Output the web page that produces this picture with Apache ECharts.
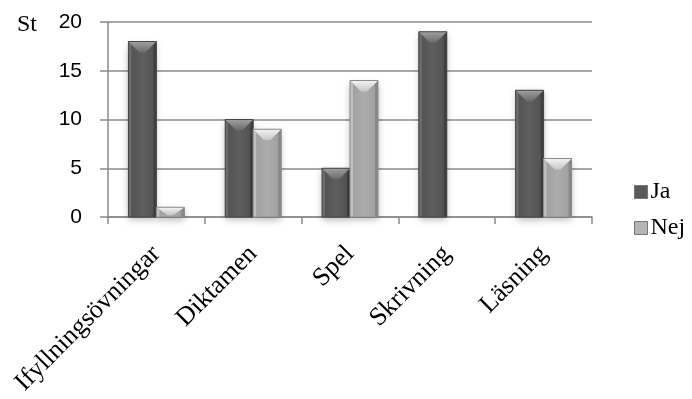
<!DOCTYPE html>
<html>
<head>
<meta charset="utf-8">
<script src="https://cdn.jsdelivr.net/npm/echarts@6/dist/echarts.min.js"></script>
<style>
  html, body { margin: 0; padding: 0; background: #fff; }
  #chart { width: 692px; height: 399px; }
</style>
</head>
<body>
<div id="chart"></div>
<script>
// Antal svar per övningstyp
const categories = ['Ifyllningsövningar', 'Diktamen', 'Spel', 'Skrivning', 'Läsning'];
const jaValues = [18, 10, 5, 19, 13];
const nejValues = [1, 9, 14, 0, 6];
const yTicks = [0, 5, 10, 15, 20];

const BAR_W = 28;

// Bevelled column: flat body, light/dark side strips and a light top facet
function bevelBar(shades, offsetIndex) {
  return function (params, api) {
    const v = api.value(1);
    if (!v) return null;
    const top = api.coord([api.value(0), v]);
    const base = api.coord([api.value(0), 0]);
    const x0 = top[0] + (offsetIndex === 0 ? -BAR_W : 0);
    const x1 = x0 + BAR_W;
    const yT = top[1];
    const yB = base[1];
    const h = yB - yT;
    const side = 3;
    const depth = Math.min(11, h * 0.8);
    const mid = (x0 + x1) / 2;
    return {
      type: 'group',
      children: [
        {
          type: 'rect',
          shape: { x: x0, y: yT, width: BAR_W, height: h },
          style: {
            fill: new echarts.graphic.LinearGradient(0, 0, 1, 0, [
              { offset: 0, color: shades.body },
              { offset: 0.5, color: shades.bodyMid },
              { offset: 1, color: shades.body }
            ]),
            shadowColor: 'rgba(0,0,0,0.28)',
            shadowBlur: 7,
            shadowOffsetY: 3
          }
        },
        {
          type: 'polygon',
          shape: { points: [[x0, yT], [x0 + side, yT + side], [x0 + side, yB], [x0, yB]] },
          style: { fill: shades.left }
        },
        {
          type: 'polygon',
          shape: { points: [[x1, yT], [x1 - side, yT + side], [x1 - side, yB], [x1, yB]] },
          style: { fill: shades.right }
        },
        {
          type: 'polygon',
          shape: { points: [[x0, yT], [x1, yT], [mid + 3, yT + depth], [mid - 3, yT + depth]] },
          style: {
            fill: new echarts.graphic.LinearGradient(0, 0, 0, 1, [
              { offset: 0, color: shades.topHi },
              { offset: 1, color: shades.topLo }
            ])
          }
        },
        {
          type: 'rect',
          shape: { x: x0, y: yT, width: BAR_W, height: h },
          style: { fill: 'none', stroke: shades.edge, lineWidth: 1 }
        }
      ]
    };
  };
}

const jaShades = {
  body: '#515151', bodyMid: '#5e5e5e', left: '#6c6c6c', right: '#404040',
  topHi: '#a0a0a0', topLo: '#6a6a6a', edge: '#464646'
};
const nejShades = {
  body: '#9e9e9e', bodyMid: '#acacac', left: '#c0c0c0', right: '#878787',
  topHi: '#f4f4f4', topLo: '#c6c6c6', edge: '#8c8c8c'
};

const chart = echarts.init(document.getElementById('chart'));
chart.setOption({
  animation: false,
  grid: { left: 108, right: 100, top: 22, bottom: 182, containLabel: false },
  legend: {
    orient: 'vertical',
    left: 629,
    top: 175,
    itemWidth: 13,
    itemHeight: 13,
    itemGap: 12,
    itemStyle: { borderColor: '#777', borderWidth: 1 },
    icon: 'rect',
    textStyle: { fontFamily: 'Liberation Serif', fontSize: 24, color: '#000', padding: [0, 0, 0, -2] },
    data: ['Ja', 'Nej']
  },
  xAxis: {
    type: 'category',
    data: categories,
    axisLine: { lineStyle: { color: '#8a8a8a', width: 1.5 } },
    axisTick: { show: true, length: 7, lineStyle: { color: '#8a8a8a', width: 1.5 } },
    axisLabel: {
      rotate: 45,
      margin: 33,
      interval: 0,
      fontFamily: 'Liberation Serif',
      fontSize: 26,
      color: '#000'
    }
  },
  yAxis: {
    type: 'value',
    min: yTicks[0],
    max: yTicks[yTicks.length - 1],
    interval: 5,
    name: 'St',
    nameLocation: 'end',
    nameGap: -3,
    nameTextStyle: {
      fontFamily: 'Liberation Serif', fontSize: 24, color: '#000',
      align: 'left', verticalAlign: 'middle', padding: [0, 0, 0, -91]
    },
    axisLine: { show: true, lineStyle: { color: '#8a8a8a', width: 1.5 } },
    axisTick: { show: true, length: 8, lineStyle: { color: '#8a8a8a', width: 1.5 } },
    splitLine: { lineStyle: { color: '#8a8a8a', width: 1.5 } },
    axisLabel: { margin: 26, fontFamily: 'Liberation Sans', fontSize: 21, color: '#000' }
  },
  series: [
    {
      name: 'Ja',
      type: 'custom',
      renderItem: bevelBar(jaShades, 0),
      itemStyle: { color: '#5a5a5a' },
      encode: { x: 0, y: 1 },
      data: categories.map((c, i) => [i, jaValues[i]])
    },
    {
      name: 'Nej',
      type: 'custom',
      renderItem: bevelBar(nejShades, 1),
      itemStyle: { color: '#b4b4b4' },
      encode: { x: 0, y: 1 },
      data: categories.map((c, i) => [i, nejValues[i]])
    }
  ]
});
</script>
</body>
</html>
